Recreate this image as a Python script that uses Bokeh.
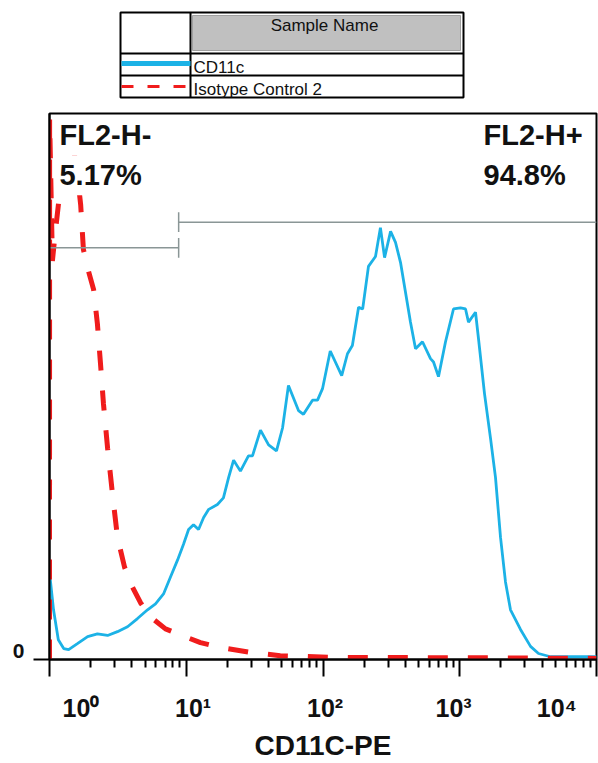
import numpy as np
from bokeh.plotting import figure
from bokeh.models import (Range1d, FixedTicker, CustomJSTickFormatter, LogAxis,
                          LinearAxis, Label)
from bokeh.layouts import column
from bokeh.embed import file_html
from bokeh.resources import INLINE
from bokeh.core.properties import value

# ---------------- data ----------------
series_names = ["CD11c", "Isotype Control 2"]
legend_header = "Sample Name"
x_title = "CD11C-PE"
decades = [1, 10, 100, 1000, 10000]
decade_labels = ["10\u2070", "10\u00b9", "10\u00b2", "10\u00b3", "10\u2074"]
y_tick_labels = ["0"]

# CD11c (fluorescence, relative count 0-100 scale)
cd11c_x = [1.0, 1.02, 1.07, 1.16, 1.27, 1.38, 1.60, 1.90, 2.24, 2.66, 3.14, 3.72,
           4.40, 5.21, 5.96, 6.82, 7.67, 8.63, 9.55, 10.4, 11.3, 12.3, 13.4, 14.6,
           16.9, 18.7, 20.4, 22.2, 24.9, 28.5, 30.5, 34.9, 40.0, 45.7, 50.6, 55.9,
           66.2, 72.0, 83.8, 91.2, 99.2, 113, 137, 151, 164, 182, 195, 215, 242,
           263, 282, 312, 339, 369, 436, 475, 534, 611, 643, 699, 787, 900, 1013,
           1102, 1159, 1304, 1372, 1517, 1679, 1826, 1986, 2160, 2350, 2781, 3292,
           3766, 4609, 6788, 10000]
cd11c_y = [16.0, 14.0, 9.1, 3.6, 2.0, 1.8, 2.9, 4.2, 4.7, 4.4, 5.1, 6.0,
           7.5, 9.1, 10.2, 12.0, 15.1, 18.2, 21.1, 23.8, 24.7, 23.8, 26.0, 27.5,
           28.4, 29.6, 33.3, 36.5, 34.5, 37.3, 37.3, 42.0, 39.3, 38.2, 42.4, 50.2,
           45.6, 44.9, 47.5, 47.5, 49.6, 56.5, 52.0, 56.0, 57.5, 64.5, 64.2, 72.0, 73.8,
           79.1, 73.6, 78.4, 76.4, 72.7, 61.8, 56.9, 58.2, 55.1, 54.5, 51.8, 58.2, 64.2, 64.4,
           64.2, 61.8, 63.6, 58.7, 48.7, 40.5, 33.3, 22.4, 14.2, 9.1, 5.5, 2.4,
           1.1, 0.5, 0.5, 0.5]

# Isotype Control 2
iso_x = [1.0, 1.002, 1.05, 1.10, 1.17, 1.28, 1.42, 1.58, 1.69, 1.77, 1.93, 2.10,
         2.24, 2.36, 2.48, 2.66, 2.89, 3.14, 3.54, 3.98, 4.63, 5.48, 7.05, 9.08,
         12.7, 17.8, 29.5, 48.7, 113, 368, 1986, 10000]
iso_y = [0.0, 99.0, 73.0, 78.0, 84.0, 96.0, 97.0, 90.0, 83.3, 75.1, 71.1, 67.8,
         61.5, 54.2, 46.9, 38.7, 30.2, 22.4, 16.9, 13.6, 10.4, 7.8, 5.6, 4.5,
         3.1, 2.2, 1.3, 0.7, 0.4, 0.35, 0.3, 0.2]

gate_names = ["FL2-H-", "FL2-H+"]
gate_pcts = ["5.17%", "94.8%"]
gate_threshold = 8.8
gate_levels = [75.4, 80.1]

# ---------------- styles ----------------
BLUE = "#1cb2e6"
RED = "#f01c1c"
GATE = "#8a9696"
FONT = "Liberation Sans"
BORDER_L, BORDER_R = 49, 2
PAGE_W = 598

# ---------------- legend table (screen-pixel layout) ----------------
leg = figure(width=PAGE_W, height=108, x_range=Range1d(BORDER_L, PAGE_W - BORDER_R),
             y_range=Range1d(108, 0), output_backend="svg", toolbar_location=None,
             min_border_left=BORDER_L, min_border_right=BORDER_R,
             min_border_top=0, min_border_bottom=0)
leg.axis.visible = False
leg.grid.visible = False
leg.outline_line_color = None
leg.quad(left=[192], right=[460], top=[15], bottom=[50], fill_color="#c0c0c0",
         line_color="#a0a0a0", line_width=1)
leg.quad(left=[120], right=[463], top=[12], bottom=[97], fill_color=None,
         line_color="black", line_width=2)
leg.segment(x0=[190, 120, 120], y0=[12, 53, 75], x1=[190, 463, 463], y1=[97, 53, 75],
            line_color="black", line_width=2)
leg.line([121, 190], [63, 63], line_color=BLUE, line_width=5)
leg.line([121, 190], [86, 86], line_color=RED, line_width=3, line_dash="12 14")
leg.text(x=[324], y=[25], text=[legend_header], text_align="center",
         text_baseline="alphabetic", text_font=value(FONT), text_font_size="17px",
         text_color="#111111")
leg.text(x=[193, 193], y=[67, 89], text=series_names, text_align="left",
         text_baseline="alphabetic", text_font=value(FONT), text_font_size="17px",
         text_color="#111111")

# ---------------- main histogram ----------------
p = figure(width=PAGE_W, height=655, x_axis_type="log",
           x_range=Range1d(decades[0], decades[-1]), y_range=Range1d(0, 100),
           output_backend="svg", toolbar_location=None,
           min_border_left=BORDER_L, min_border_right=BORDER_R,
           min_border_top=5, min_border_bottom=100)
p.grid.visible = False
p.outline_line_color = "black"
p.outline_line_width = 2
p.background_fill_color = "white"

p.line(cd11c_x, cd11c_y, line_color=BLUE, line_width=2.8)
p.line(iso_x, iso_y, line_color=RED, line_width=5, line_dash="20 20")

# gates
p.segment(x0=[decades[0], gate_threshold], x1=[gate_threshold, decades[-1]],
          y0=gate_levels, y1=gate_levels, line_color=GATE, line_width=1.5)
bar = 1.8
p.segment(x0=[gate_threshold, gate_threshold], x1=[gate_threshold, gate_threshold],
          y0=[g - bar for g in gate_levels], y1=[g + bar for g in gate_levels],
          line_color=GATE, line_width=1.5)

# gate annotations
for xpos, name, pct in [(1.106, gate_names[0], gate_pcts[0]),
                        (1395, gate_names[1], gate_pcts[1])]:
    for ypos, txt in [(96.0, name), (88.7, pct)]:
        p.add_layout(Label(x=xpos, y=ypos, text=txt, text_font=FONT,
                           text_font_size="29px", text_font_style="bold",
                           text_color="#111111", text_align="left",
                           text_baseline="alphabetic",
                           background_fill_color="white", padding=4))

# x axis: ticks only
xa = p.xaxis[0]
minor = [m * d for d in decades[:-1] for m in range(2, 10)]
xa.ticker = FixedTicker(ticks=decades, minor_ticks=minor)
xa.formatter = CustomJSTickFormatter(code="return ''")
xa.major_label_text_font_size = "1px"
xa.major_label_standoff = 0
xa.axis_line_width = 2
xa.axis_line_color = "black"
xa.major_tick_out = 17
xa.major_tick_in = 0
xa.minor_tick_out = 8
xa.minor_tick_in = 0
xa.major_tick_line_width = 2
xa.minor_tick_line_width = 2
xa.major_tick_line_color = "black"
xa.minor_tick_line_color = "black"

# x axis: decade labels (placed as in the original)
label_offsets = [0.23, 0.05, 0.015, -0.045, -0.29]
label_pos = [d * 10 ** o for d, o in zip(decades, label_offsets)]
xl = LogAxis(ticker=FixedTicker(ticks=label_pos, minor_ticks=[]),
             formatter=CustomJSTickFormatter(args=dict(labels=decade_labels),
                                             code="return labels[index]"),
             axis_line_color=None, major_tick_line_color=None, minor_tick_line_color=None,
             major_tick_out=0, major_tick_in=0, minor_tick_out=0, minor_tick_in=0,
             major_label_standoff=17, major_label_text_font=FONT,
             major_label_text_font_size="25px", major_label_text_font_style="bold",
             major_label_text_color="#111111",
             axis_label=x_title, axis_label_standoff=5, axis_label_text_font=FONT,
             axis_label_text_font_size="28px", axis_label_text_font_style="bold",
             axis_label_text_color="#111111")
p.add_layout(xl, "below")

# y axis: tick at zero
ya = p.yaxis[0]
ya.ticker = FixedTicker(ticks=[0], minor_ticks=[])
ya.formatter = CustomJSTickFormatter(code="return ''")
ya.major_label_text_font_size = "1px"
ya.major_label_standoff = 0
ya.axis_line_width = 2
ya.axis_line_color = "black"
ya.major_tick_out = 16
ya.major_tick_in = 0
ya.major_tick_line_width = 2
ya.major_tick_line_color = "black"

yl = LinearAxis(ticker=FixedTicker(ticks=[1.6], minor_ticks=[]),
                formatter=CustomJSTickFormatter(args=dict(labels=y_tick_labels),
                                                code="return labels[index]"),
                axis_line_color=None, major_tick_line_color=None, minor_tick_line_color=None,
                major_tick_out=0, major_tick_in=0, minor_tick_out=0, minor_tick_in=0,
                major_label_standoff=9, major_label_text_font=FONT,
                major_label_text_font_size="21px", major_label_text_font_style="bold",
                major_label_text_color="#111111")
p.add_layout(yl, "left")

layout = column(leg, p, spacing=0)
open("out.html", "w").write(file_html(layout, INLINE))
